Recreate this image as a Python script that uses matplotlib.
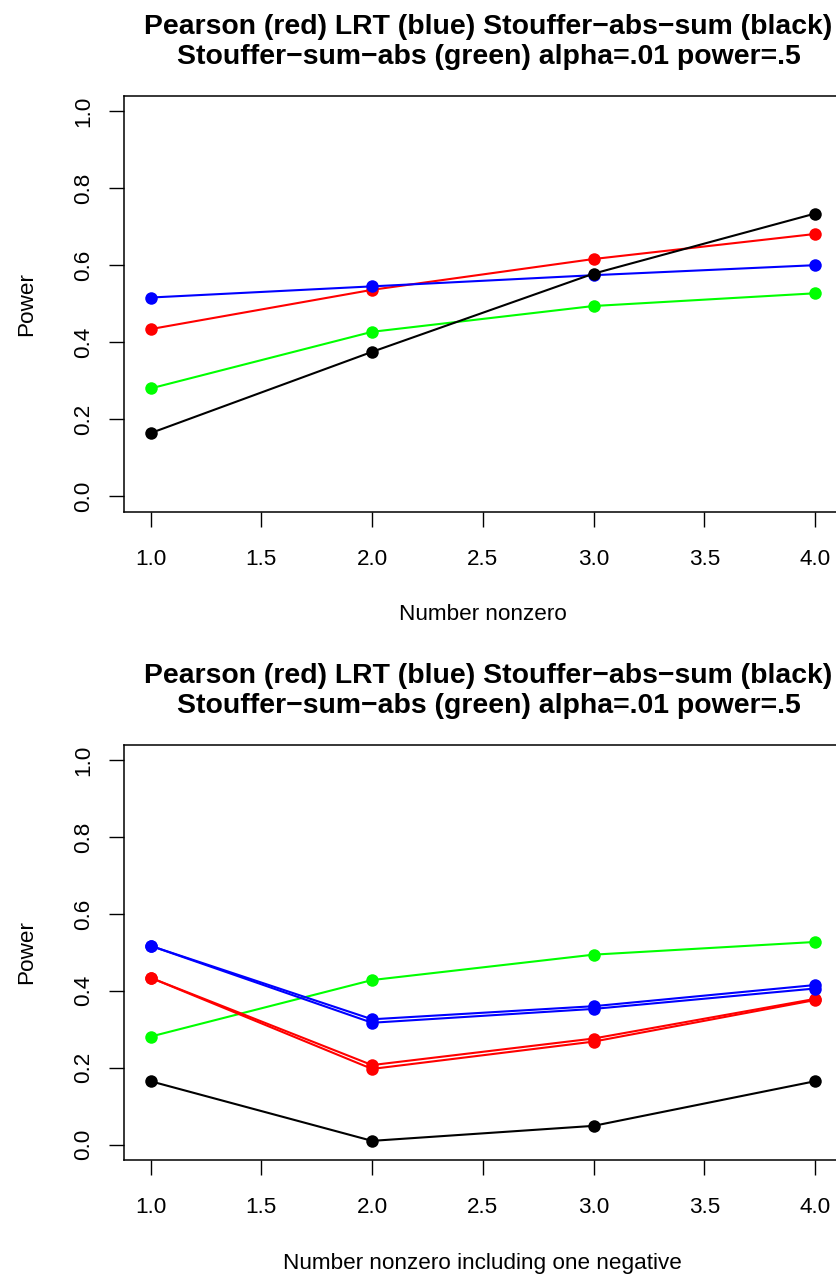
import matplotlib
matplotlib.use("Agg")
import matplotlib.pyplot as plt

plt.rcParams['font.family'] = ['Liberation Sans', 'DejaVu Sans']

# ---- data ----
x_vals = [1, 2, 3, 4]

top_pearson = [0.434, 0.536, 0.616, 0.681]
top_lrt = [0.516, 0.545, 0.574, 0.600]
top_abs_sum = [0.164, 0.375, 0.578, 0.734]
top_sum_abs = [0.280, 0.427, 0.494, 0.527]

bot_pearson_a = [0.434, 0.207, 0.276, 0.379]
bot_pearson_b = [0.434, 0.197, 0.268, 0.376]
bot_lrt_a = [0.517, 0.326, 0.360, 0.415]
bot_lrt_b = [0.517, 0.317, 0.353, 0.406]
bot_abs_sum = [0.165, 0.010, 0.049, 0.165]
bot_sum_abs = [0.281, 0.428, 0.494, 0.527]

x_ticks = [1.0, 1.5, 2.0, 2.5, 3.0, 3.5, 4.0]
y_ticks = [0.0, 0.2, 0.4, 0.6, 0.8, 1.0]

title_text = ("Pearson (red) LRT (blue) Stouffer\u2212abs\u2212sum (black)\n"
              "Stouffer\u2212sum\u2212abs (green) alpha=.01 power=.5")
top_xlabel = "Number nonzero"
bot_xlabel = "Number nonzero including one negative"
ylabel = "Power"

W, H = 837, 1275
fig = plt.figure(figsize=(W / 100, H / 100), dpi=100)

def make_axes(bottom_px, top_px):
    left_px, right_px = 124, 841.6
    return fig.add_axes([left_px / W, 1 - bottom_px / H,
                         (right_px - left_px) / W, (bottom_px - top_px) / H])

ax1 = make_axes(511.7, 95.7)
ax2 = make_axes(1160.1, 744.6)

lw = 1.5
ms = 9.0

def series(ax, y, color):
    ax.plot(x_vals, y, color=color, lw=lw, marker='o', ms=ms,
            markeredgewidth=0, solid_joinstyle='round')

series(ax1, top_sum_abs, '#00FF00')
series(ax1, top_pearson, '#FF0000')
series(ax1, top_lrt, '#0000FF')
series(ax1, top_abs_sum, '#000000')

series(ax2, bot_sum_abs, '#00FF00')
series(ax2, bot_pearson_a, '#FF0000')
series(ax2, bot_pearson_b, '#FF0000')
series(ax2, bot_lrt_a, '#0000FF')
series(ax2, bot_lrt_b, '#0000FF')
series(ax2, bot_abs_sum, '#000000')

for ax, xl in ((ax1, top_xlabel), (ax2, bot_xlabel)):
    ax.set_xlim(0.88, 4.12)
    ax.set_ylim(-0.04, 1.04)
    ax.set_xticks(x_ticks)
    ax.set_xticklabels([f"{v:.1f}" for v in x_ticks])
    ax.set_yticks(y_ticks)
    ax.set_yticklabels([f"{v:.1f}" for v in y_ticks], rotation=90, va='center')
    ax.tick_params(axis='both', direction='out', length=10.5, width=1.0,
                   labelsize=16.2, colors='black')
    ax.tick_params(axis='x', pad=16)
    ax.tick_params(axis='y', pad=11)
    for sp in ax.spines.values():
        sp.set_linewidth(1.1)
        sp.set_color('black')
    ax.set_xlabel(xl, fontsize=16.2, labelpad=25)
    ax.set_ylabel(ylabel, fontsize=16.2, labelpad=26)
    ax.set_title(title_text, fontsize=20.4, fontweight='bold', pad=23,
                 linespacing=1.2, x=0.508)

fig.savefig("out.png", dpi=100)
